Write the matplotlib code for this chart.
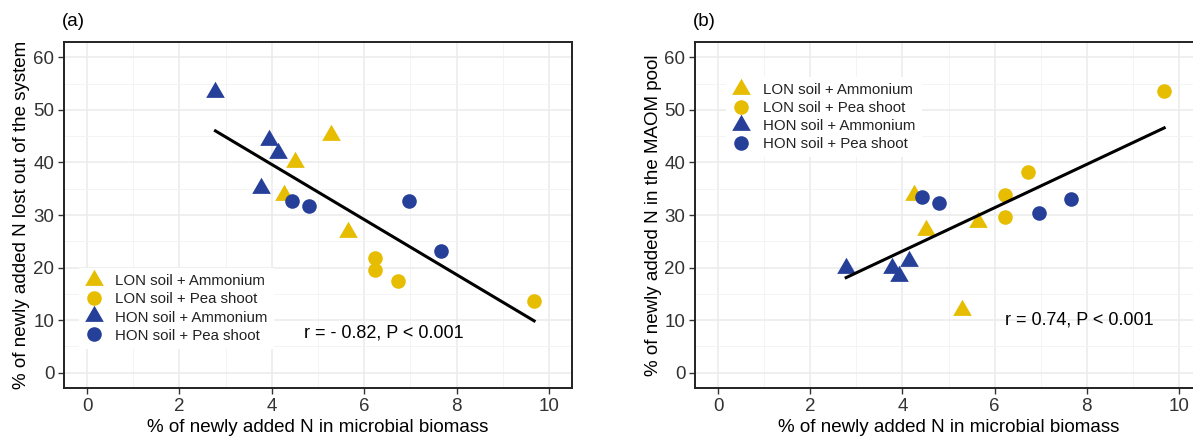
import matplotlib
matplotlib.use("Agg")
import matplotlib.pyplot as plt
import numpy as np
from matplotlib.ticker import MultipleLocator
from matplotlib.lines import Line2D

plt.rcParams['font.family'] = ['Liberation Sans', 'DejaVu Sans']

# values
lon_amm_x = [5.29, 4.51, 4.26, 5.64]
lon_amm_lost = [45.2, 40.1, 33.8, 26.8]
lon_amm_maom = [12.0, 27.2, 33.8, 28.6]

lon_pea_x = [6.23, 6.23, 6.73, 9.68]
lon_pea_lost = [21.8, 19.6, 17.4, 13.6]
lon_pea_maom = [29.7, 33.8, 38.1, 53.6]

hon_amm_x = [2.78, 3.93, 4.14, 3.77]
hon_amm_lost = [53.4, 44.2, 41.7, 35.1]
hon_amm_maom = [19.9, 18.4, 21.2, 19.9]

hon_pea_x = [4.43, 4.80, 6.97, 7.66]
hon_pea_lost = [32.7, 31.7, 32.7, 23.2]
hon_pea_maom = [33.5, 32.2, 30.3, 33.0]

labels = ["LON soil + Ammonium", "LON soil + Pea shoot",
          "HON soil + Ammonium", "HON soil + Pea shoot"]
stats = ["r = - 0.82, P < 0.001", "r = 0.74, P < 0.001"]
ylabels = ["% of newly added N lost out of the system",
           "% of newly added N in the MAOM pool"]
xlabel = "% of newly added N in microbial biomass"

yellow = "#E6BD00"
blue = "#263F99"
tri = [(-1, -0.577), (1, -0.577), (0, 1.155)]
styles = [(tri, yellow, 15.5), ("o", yellow, 10.5), (tri, blue, 15.5), ("o", blue, 10.5)]

fig = plt.figure(figsize=(11.93, 4.36), dpi=100)
ax_a = fig.add_axes([64 / 1193, 1 - 388 / 436, 508 / 1193, 346 / 436])
ax_b = fig.add_axes([695 / 1193, 1 - 388 / 436, 507 / 1193, 346 / 436])

panels = [
    (ax_a, [lon_amm_lost, lon_pea_lost, hon_amm_lost, hon_pea_lost], "(a)"),
    (ax_b, [lon_amm_maom, lon_pea_maom, hon_amm_maom, hon_pea_maom], "(b)"),
]
xs = [lon_amm_x, lon_pea_x, hon_amm_x, hon_pea_x]

for i, (ax, ys, tag) in enumerate(panels):
    for x, y, (m, c, s) in zip(xs, ys, styles):
        ax.plot(x, y, linestyle="none", marker=m, color=c, markersize=s,
                markeredgewidth=0, zorder=3)

    allx = np.concatenate([np.array(v) for v in xs])
    ally = np.concatenate([np.array(v) for v in ys])
    k, b = np.polyfit(allx, ally, 1)
    xx = np.array([allx.min(), allx.max()])
    ax.plot(xx, k * xx + b, color="black", linewidth=2.2, zorder=4)

    ax.set_xlim(-0.5, 10.5)
    ax.set_ylim(-2.9, 62.9)
    ax.xaxis.set_major_locator(MultipleLocator(2))
    ax.xaxis.set_minor_locator(MultipleLocator(1))
    ax.yaxis.set_major_locator(MultipleLocator(10))
    ax.yaxis.set_minor_locator(MultipleLocator(5))
    ax.grid(which="major", color="#EBEBEB", linewidth=1.1, zorder=0)
    ax.grid(which="minor", color="#F3F3F3", linewidth=0.6, zorder=0)
    ax.set_axisbelow(True)
    for sp in ax.spines.values():
        sp.set_linewidth(1.4)
        sp.set_color("#222222")
    ax.tick_params(which="major", length=4, width=1, color="#333333",
                   labelsize=13.5, labelcolor="#333333", pad=3)
    ax.tick_params(which="minor", length=0)
    ax.set_xlabel(xlabel, fontsize=13.5, labelpad=3)
    ax.set_ylabel(ylabels[i], fontsize=13.5, labelpad=2)
    ax.text(-0.005, 1.035, tag, transform=ax.transAxes, fontsize=13.5,
            ha="left", va="bottom")

    handles = [Line2D([], [], linestyle="none", marker=m, color=c,
                      markersize=s, markeredgewidth=0)
               for (m, c, s) in styles]
    opts = dict(fontsize=10.8, labelspacing=0.27, handlelength=1.2,
                handletextpad=0.85, borderpad=0.4, borderaxespad=0)
    if i == 0:
        leg = ax.legend(handles, labels, loc="lower left",
                        bbox_to_anchor=(0.029, 0.114), **opts)
        ax.text(4.7, 7.6, stats[0], fontsize=13, va="center", ha="left")
    else:
        leg = ax.legend(handles, labels, loc="upper left",
                        bbox_to_anchor=(0.062, 0.898), **opts)
        ax.text(6.22, 10.1, stats[1], fontsize=13, va="center", ha="left")
    leg.get_frame().set_facecolor("white")
    leg.get_frame().set_edgecolor("none")
    leg.get_frame().set_alpha(1)
    leg.get_frame().set_boxstyle("square", pad=0)
    leg.set_zorder(5)
    for t in leg.get_texts():
        t.set_color("#222222")

fig.savefig("out.png", dpi=100)
